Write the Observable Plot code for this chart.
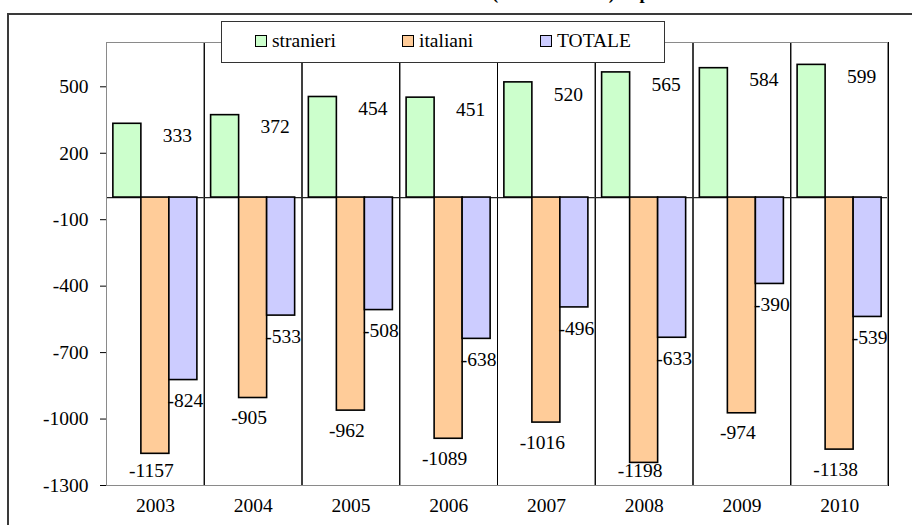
<!DOCTYPE html>
<html>
<head>
<meta charset="utf-8">
<script src="https://cdn.jsdelivr.net/npm/d3@7"></script>
<script src="https://cdn.jsdelivr.net/npm/@observablehq/plot@0.6"></script>
<style>
  html, body { margin: 0; padding: 0; background: #fff; }
  #wrap { position: relative; width: 912px; height: 525px; overflow: hidden; font-family: "Liberation Serif", "Times New Roman", serif; }
  #chart { position: absolute; left: 0; top: 0; }
  .title { position: absolute; top: -17px; white-space: nowrap; font-weight: bold; font-size: 18.5px; color: #000; }
  #t1 { right: 420px; }
  #t2 { left: 492px; }
  #outer { position: absolute; left: 7px; top: 13px; width: 940px; height: 560px; border: 2.5px solid #3a3a3a; box-sizing: border-box; background: transparent; }
  #topmask { position: absolute; left: 0; top: 4px; width: 912px; height: 9px; background: #fff; }
  #plotbox { position: absolute; left: 106px; top: 42px; width: 782px; height: 444px; border: 1px solid #8a8a8a; box-sizing: border-box; }
  #legend { position: absolute; left: 221px; top: 21px; width: 444px; height: 42px; border: 1px solid #333; background: #fff; box-sizing: border-box; font-size: 19.5px; }
  .item { position: absolute; top: 8px; display: flex; align-items: center; white-space: nowrap; }
  .sw { width: 10px; height: 10px; border: 1px solid #000; margin-right: 5px; }
</style>
</head>
<body>
<div id="wrap">
  <div id="chart"></div>
  <div id="plotbox"></div>
  <div id="legend"></div>
  <div class="title" id="t1">Saldi naturali dei residenti stranieri e italiani </div>
  <div class="title" id="t2">(valori assoluti) in provincia di Piacenza</div>
  <div id="topmask"></div>
  <div id="outer"></div>
</div>
<script>
const years = [2003, 2004, 2005, 2006, 2007, 2008, 2009, 2010];
const series = ["stranieri", "italiani", "TOTALE"];
const colors = ["#CCFFCC", "#FFCC99", "#CCCCFF"];
const stranieri = [333, 372, 454, 451, 520, 565, 584, 599];
const italiani = [-1157, -905, -962, -1089, -1016, -1198, -974, -1138];
const totale = [-824, -533, -508, -638, -496, -633, -390, -539];
const yTicks = [-1300, -1000, -700, -400, -100, 200, 500];

const values = [stranieri, italiani, totale];
const data = [];
years.forEach((yr, i) => {
  series.forEach((s, j) => data.push({year: yr, serie: s, value: values[j][i]}));
});
const colorOf = s => colors[series.indexOf(s)];

const str = data.filter(d => d.serie === "stranieri");
const ita = data.filter(d => d.serie === "italiani");
const tot = data.filter(d => d.serie === "TOTALE");

const chart = Plot.plot({
  width: 912,
  height: 525,
  marginLeft: 106,
  marginRight: 24,
  marginTop: 42,
  marginBottom: 40,
  style: {fontFamily: '"Liberation Serif", "Times New Roman", serif', fontSize: "19.5px", color: "#000", background: "transparent"},
  fx: {domain: years, paddingInner: 0, paddingOuter: 0, round: false, axis: "bottom", tickSize: 0, tickPadding: 13, tickFormat: d => String(d), label: null},
  x: {domain: series, paddingInner: 0, paddingOuter: 0.245, round: false, axis: null},
  y: {domain: [-1300, 700], ticks: yTicks, tickSize: 6, tickPadding: 12, tickFormat: d => String(d), label: null},
  marks: [
    Plot.frame({stroke: "#000", strokeWidth: 1}),
    Plot.ruleY([0], {stroke: "#222", strokeWidth: 1.2}),
    Plot.barY(data, {fx: "year", x: "serie", y: "value", fill: d => colorOf(d.serie), stroke: "#000", strokeWidth: 1.6}),
    Plot.text(str, {fx: "year", x: "serie", y: "value", text: d => String(d.value), dx: 50, dy: 12, fill: "#000"}),
    Plot.text(ita, {fx: "year", x: "serie", y: d => Math.max(d.value - 90, -1232), text: d => String(d.value), dx: -4, fill: "#000"}),
    Plot.text(tot, {fx: "year", x: "serie", y: d => d.value - 95, text: d => String(d.value), dx: 2, fill: "#000"})
  ]
});
document.getElementById("chart").appendChild(chart);

const legend = document.getElementById("legend");
const lefts = [33, 180, 318];
series.forEach((s, j) => {
  const it = document.createElement("div");
  it.className = "item";
  it.style.left = lefts[j] + "px";
  const sw = document.createElement("div");
  sw.className = "sw";
  sw.style.background = colors[j];
  const t = document.createElement("span");
  t.textContent = s;
  it.appendChild(sw);
  it.appendChild(t);
  legend.appendChild(it);
});
</script>
</body>
</html>
